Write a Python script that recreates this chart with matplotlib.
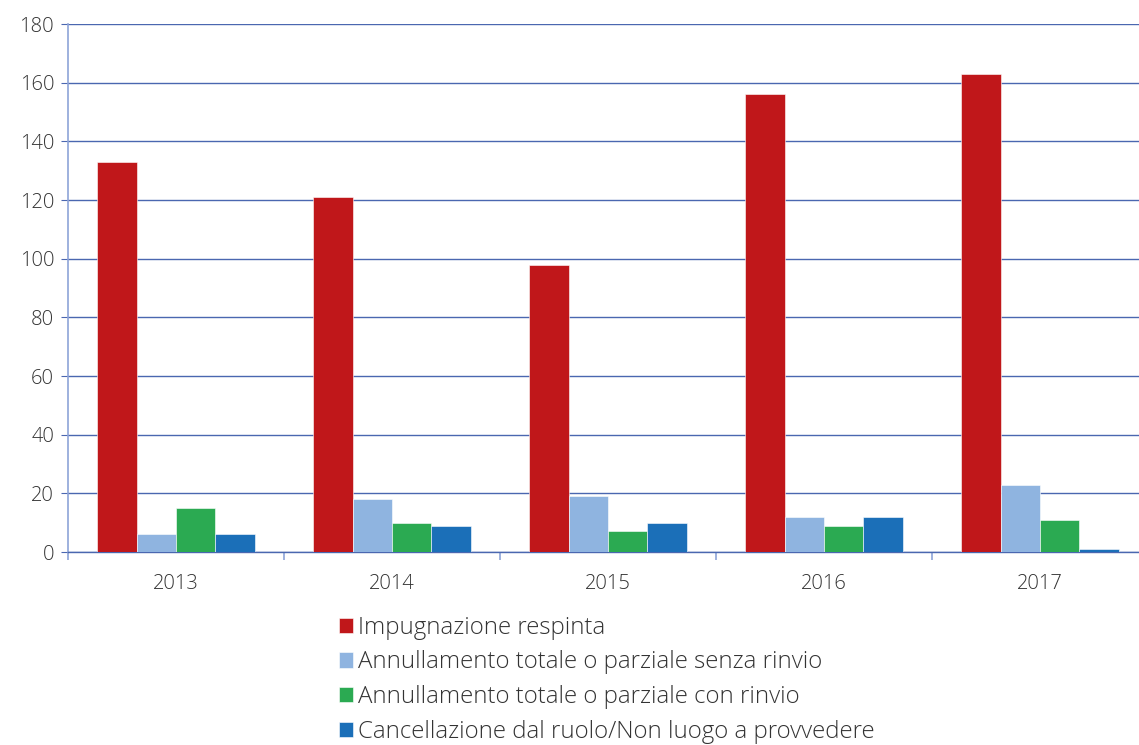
import numpy as np
import matplotlib.pyplot as plt

# esiti dei ricorsi per anno
anni = ['2013', '2014', '2015', '2016', '2017']
serie = ['Impugnazione respinta',
         'Annullamento totale o parziale senza rinvio',
         'Annullamento totale o parziale con rinvio',
         'Cancellazione dal ruolo/Non luogo a provvedere']
respinta = [133, 121, 98, 156, 163]
senza_rinvio = [6, 18, 19, 12, 23]
con_rinvio = [15, 10, 7, 9, 11]
cancellazione = [6, 9, 10, 12, 1]
colori = ['#C0171A', '#8FB4E0', '#2BAA52', '#1B6FB8']

plt.rcParams['font.family'] = ['Open Sans', 'DejaVu Sans']
plt.rcParams['font.weight'] = 'light'

fig = plt.figure(figsize=(11.39, 7.45), dpi=100)
ax = fig.add_axes([68/1139, (745-552)/745, (1148-68)/1139, 528/745])

x = np.arange(len(anni))
w = 0.182
valori = [respinta, senza_rinvio, con_rinvio, cancellazione]
for i, (v, c, lab) in enumerate(zip(valori, colori, serie)):
    ax.bar(x + (i - 1.5)*w, v, w, color=c, label=lab, zorder=3,
           edgecolor='white', linewidth=0.4)

ax.set_xlim(-0.5, 4.5)
ax.set_ylim(0, 180)
ax.set_yticks(range(0, 181, 20))
ax.grid(axis='y', color='#4A67B0', linewidth=1.0, zorder=0)
ax.set_axisbelow(True)

ax.set_xticks(x)
ax.set_xticklabels(anni)
ax.set_xticks(np.arange(-0.5, 5, 1), minor=True)
ax.tick_params(axis='x', which='major', length=0, pad=16, labelsize=14.5, labelcolor='#333333')
ax.tick_params(axis='x', which='minor', length=6, color='#8EA4D8', width=1.2)
ax.tick_params(axis='y', length=5, color='#4A67B0', labelsize=14.5, labelcolor='#333333', pad=5)

for s in ['top', 'right']:
    ax.spines[s].set_visible(False)
ax.spines['left'].set_color('#8EA4D8')
ax.spines['left'].set_linewidth(1.2)
ax.spines['bottom'].set_color('#4A67B0')
ax.spines['bottom'].set_linewidth(1.0)

fig.legend(loc='upper left', bbox_to_anchor=(329/1139, 1 - 606/745), frameon=False,
           fontsize=17.3, handlelength=0.6, handleheight=0.6, handletextpad=0.2,
           labelspacing=0.45, labelcolor='#333333', borderaxespad=0)

fig.savefig('out.png', dpi=100)
